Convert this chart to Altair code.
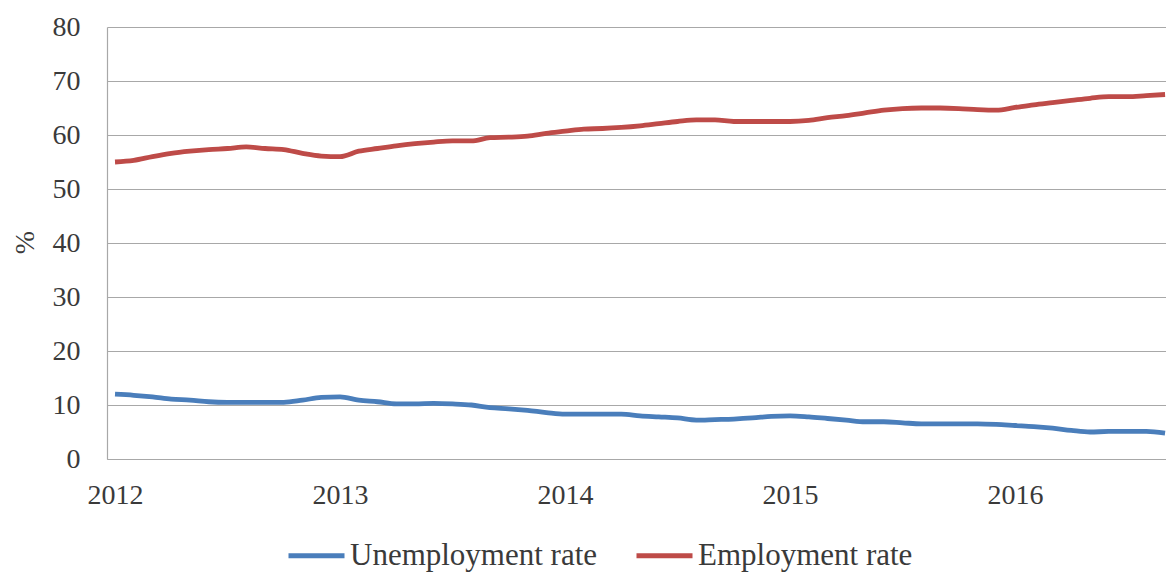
import altair as alt
import pandas as pd

# Monthly observations, January 2012 to September 2016
months = [f"{y}-{m:02d}" for y in range(2012, 2017) for m in range(1, 13)][:57]

unemployment = [12.0, 11.8, 11.5, 11.1, 10.9, 10.6, 10.5, 10.5, 10.5, 10.5, 10.9, 11.4,
                11.5, 10.9, 10.6, 10.2, 10.2, 10.3, 10.2, 10.0, 9.5, 9.3, 9.0, 8.6,
                8.3, 8.3, 8.3, 8.3, 8.0, 7.8, 7.6, 7.2, 7.3, 7.4, 7.6, 7.9,
                8.0, 7.8, 7.5, 7.2, 6.9, 6.9, 6.7, 6.5, 6.5, 6.5, 6.5, 6.4,
                6.2, 6.0, 5.7, 5.3, 5.0, 5.1, 5.1, 5.1, 4.8]
employment = [55.0, 55.3, 56.0, 56.6, 57.0, 57.3, 57.5, 57.8, 57.5, 57.3, 56.6, 56.1,
              56.0, 57.0, 57.5, 58.0, 58.4, 58.7, 58.9, 58.9, 59.5, 59.6, 59.8, 60.3,
              60.7, 61.1, 61.2, 61.4, 61.7, 62.1, 62.5, 62.8, 62.8, 62.5, 62.5, 62.5,
              62.5, 62.7, 63.2, 63.6, 64.1, 64.6, 64.9, 65.0, 65.0, 64.9, 64.7, 64.6,
              65.1, 65.6, 66.0, 66.4, 66.8, 67.1, 67.1, 67.3, 67.5]

series_names = ["Unemployment rate", "Employment rate"]
series_colors = ["#4A7EBB", "#BE4B48"]
year_ticks = [0, 12, 24, 36, 48]

rows = []
for name, values in zip(series_names, [unemployment, employment]):
    for i, (m, v) in enumerate(zip(months, values)):
        rows.append({"month": m, "idx": i, "series": name, "value": v})
df = pd.DataFrame(rows)

FONT = "Liberation Serif"
TEXT = "#3a3a3a"
GRID = "#a8a8a8"

chart = alt.Chart(df).mark_line(strokeWidth=4.8, interpolate="monotone").encode(
    x=alt.X(
        "idx:Q",
        scale=alt.Scale(domain=[-0.427, 56.05], nice=False, zero=False),
        axis=alt.Axis(
            values=year_ticks,
            labelExpr="floor(2012 + datum.value / 12)",
            title=None,
            grid=False,
            ticks=False,
            domainColor=GRID,
            domainWidth=1.2,
            labelPadding=22,
            labelFlush=False,
            labelOverlap=False,
        ),
    ),
    y=alt.Y(
        "value:Q",
        scale=alt.Scale(domain=[0, 80], nice=False),
        axis=alt.Axis(
            values=list(range(0, 90, 10)),
            title="%",
            grid=True,
            gridColor=GRID,
            gridWidth=1.2,
            ticks=False,
            domainColor=GRID,
            domainWidth=1.2,
            labelPadding=27,
            titleX=-74,
            titleY=215,
            titleAngle=270,
            titleAlign="center",
            titleBaseline="alphabetic",
        ),
    ),
    color=alt.Color(
        "series:N",
        sort=series_names,
        scale=alt.Scale(domain=series_names, range=series_colors),
        legend=alt.Legend(
            orient="none",
            legendX=179,
            legendY=498,
            direction="horizontal",
            title=None,
            symbolType="stroke",
            symbolSize=3136,
            symbolStrokeWidth=5,
            labelOffset=3,
            columnPadding=28,
            labelFontSize=31,
            labelFont=FONT,
            labelColor=TEXT,
            labelLimit=400,
        ),
    ),
).properties(
    width=1059,
    height=432,
    padding={"left": 107, "top": 27, "right": 0, "bottom": 113},
    autosize="none",
    background="white",
).configure_view(
    strokeWidth=0
).configure_axis(
    labelFont=FONT,
    labelFontSize=28,
    labelColor=TEXT,
    titleFont=FONT,
    titleFontSize=28,
    titleFontWeight="normal",
    titleColor=TEXT,
)

chart.save("out.html", embed_options={"renderer": "svg", "actions": False})
